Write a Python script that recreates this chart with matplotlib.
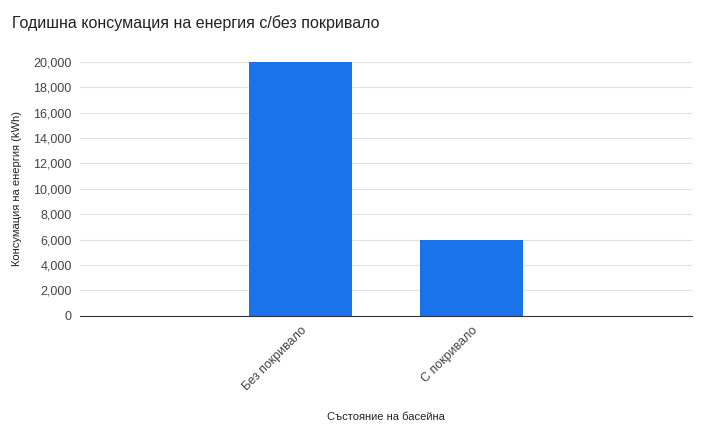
import matplotlib
matplotlib.use("Agg")
import matplotlib.pyplot as plt

categories = ["Без покривало", "С покривало"]
energy_kwh = [20000, 6000]
y_ticks = list(range(0, 20001, 2000))

plt.rcParams["font.family"] = ["Liberation Sans", "DejaVu Sans"]

fig = plt.figure(figsize=(7.09, 4.24), dpi=100)
ax = fig.add_axes([0.113, 0.255, 0.863, 0.599])

pos = [1, 2]
ax.bar(pos, energy_kwh, width=0.6, color="#1a73e8", zorder=2)
ax.set_xlim(-0.287, 3.29)
ax.set_ylim(0, 20000)
ax.set_yticks(y_ticks)
ax.set_yticklabels([f"{v:,}" for v in y_ticks], fontsize=9, color="#444444")
ax.set_xticks(pos)
ax.set_xticklabels(categories, rotation=45, ha="right", rotation_mode="anchor",
                   fontsize=9, color="#444444")
ax.tick_params(length=0, pad=6)
ax.grid(axis="y", color="#e0e0e0", linewidth=0.8, zorder=0)
for s in ["top", "right", "left"]:
    ax.spines[s].set_visible(False)
ax.spines["bottom"].set_color("#333333")
ax.spines["bottom"].set_zorder(3)

ax.set_ylabel("Консумация на енергия (kWh)", fontsize=8, color="#222222", labelpad=8)
ax.set_xlabel("Състояние на басейна", fontsize=8, color="#222222", labelpad=14)
fig.text(0.017, 0.945, "Годишна консумация на енергия с/без покривало",
         fontsize=11.5, color="#222222", va="center")

fig.savefig("out.png", dpi=100)
